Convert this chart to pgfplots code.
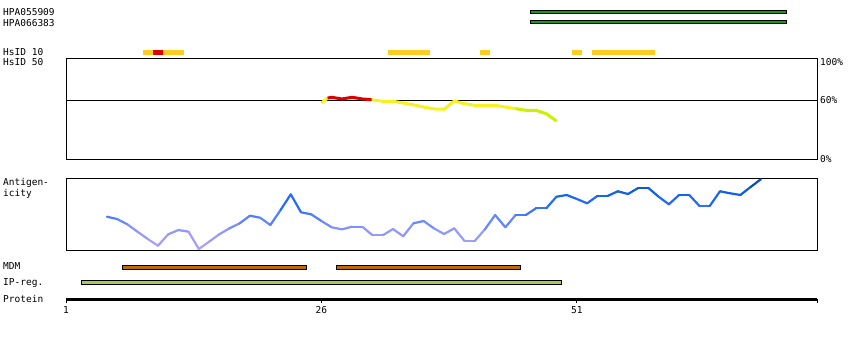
\documentclass[border=0pt]{standalone}
\usepackage{pgfplots}
\pgfplotsset{compat=1.18}
\usepackage{fontspec}
\setmainfont{DejaVu Sans Mono}
\newcommand{\lf}{\fontsize{9.5}{10}\selectfont}

\definecolor{hpagreen}{RGB}{26,150,26}
\definecolor{hsgold}{RGB}{255,204,34}
\definecolor{hsred}{RGB}{221,0,0}
\definecolor{hsyellow}{RGB}{245,242,30}
\definecolor{hsygreen}{RGB}{204,240,0}
\definecolor{mdmbrown}{RGB}{190,105,0}
\definecolor{ipgreen}{RGB}{170,200,96}

\pgfplotsset{
  colormap={antig}{rgb255(0cm)=(182,166,244); rgb255(20cm)=(140,150,255); rgb255(35cm)=(70,122,255); rgb255(55cm)=(20,100,240); rgb255(72cm)=(10,70,160)},
  track/.style={scale only axis, width=751pt, xmin=1, xmax=74.5, clip=false},
}

\begin{document}
\begin{tikzpicture}
\path[use as bounding box] (0,0) rectangle (850pt,-340pt);

% ---------- labels ----------
\begin{scope}[every node/.style={anchor=base west, inner sep=0pt, font=\lf}]
\node at (3pt,-16pt) {HPA055909};
\node at (3pt,-26pt) {HPA066383};
\node at (3pt,-55.3pt) {HsID 10};
\node at (3pt,-65.3pt) {HsID 50};
\node at (3pt,-185.3pt) {Antigen-};
\node at (3pt,-196pt) {icity};
\node at (3pt,-269.5pt) {MDM};
\node at (3pt,-285pt) {IP-reg.};
\node at (3pt,-302pt) {Protein};
\end{scope}

% ---------- track axis: x = residue, y = pixel row ----------
\begin{axis}[track, at={(66pt,0pt)}, anchor=north west, height=340pt,
  ymin=0, ymax=340, y dir=reverse, axis lines=none]
% HPA antigen bars
\addplot[draw=black, line width=1pt, fill=hpagreen] coordinates {(46.5,10.8) (71.5,10.8) (71.5,13.8) (46.5,13.8)} -- cycle;
\addplot[draw=black, line width=1pt, fill=hpagreen] coordinates {(46.5,20.8) (71.5,20.8) (71.5,23.8) (46.5,23.8)} -- cycle;
% HsID 10
\addplot[draw=none, fill=hsgold] coordinates {(8.5,50) (12.5,50) (12.5,55) (8.5,55)} -- cycle;
\addplot[draw=none, fill=hsred] coordinates {(9.5,50) (10.5,50) (10.5,55) (9.5,55)} -- cycle;
\addplot[draw=none, fill=hsgold] coordinates {(32.5,50) (36.6,50) (36.6,55) (32.5,55)} -- cycle;
\addplot[draw=none, fill=hsgold] coordinates {(41.5,50) (42.5,50) (42.5,55) (41.5,55)} -- cycle;
\addplot[draw=none, fill=hsgold] coordinates {(50.5,50) (51.5,50) (51.5,55) (50.5,55)} -- cycle;
\addplot[draw=none, fill=hsgold] coordinates {(52.5,50) (58.6,50) (58.6,55) (52.5,55)} -- cycle;
% MDM
\addplot[draw=black, line width=1pt, fill=mdmbrown] coordinates {(6.5,265.8) (24.5,265.8) (24.5,269.8) (6.5,269.8)} -- cycle;
\addplot[draw=black, line width=1pt, fill=mdmbrown] coordinates {(27.5,265.8) (45.5,265.8) (45.5,269.8) (27.5,269.8)} -- cycle;
% IP-reg
\addplot[draw=black, line width=1pt, fill=ipgreen] coordinates {(2.5,280.8) (49.5,280.8) (49.5,284.2) (2.5,284.2)} -- cycle;
\end{axis}

% ---------- protein ruler ----------
\begin{axis}[track, at={(66pt,-299.3pt)}, anchor=south west, height=10pt,
  ymin=0, ymax=1, axis x line=bottom, axis y line=none,
  x axis line style={line width=2.7pt, -},
  xtick={1,26,51,74.5}, xticklabels={1,26,51,{}},
  tick align=outside, major tick length=4pt,
  every tick/.style={black, line width=1pt},
  xticklabel style={font=\lf, inner sep=0pt, yshift=-3pt},
  /pgf/number format/assume math mode=true]
\end{axis}

% ---------- HsID 50 panel ----------
\begin{axis}[track, at={(66pt,-58.3pt)}, anchor=north west, height=100.7pt,
  ymin=0, ymax=100, xtick=\empty, ytick={0,58.3}, yticklabels={0\%,60\%},
  extra y ticks={100}, extra y tick labels={100\%},
  extra y tick style={yticklabel style={anchor=north west}},
  yticklabel pos=right, ytick pos=right, major tick length=0pt,
  axis line style={line width=1pt},
  yticklabel style={font=\lf, anchor=west, inner sep=0pt, xshift=3pt},
  /pgf/number format/assume math mode=true]
\addplot[black, line width=1pt] coordinates {(1,58.3) (74.5,58.3)};
\addplot[hsyellow, line width=3pt] coordinates {(26,55.6) (26.6,60.5)};
\addplot[hsyellow, line width=3pt, line join=round] coordinates {(30.9,58.9) (32,57.3) (33,57.3) (34,55.6) (35,53.9) (36,51.6) (37,49.7) (38,49.4) (39,57.6) (40,54.9) (41,53.3) (42,53.3) (43,53.3) (44,51.6) (45,50)};
\addplot[hsygreen, line width=3pt, line join=round] coordinates {(45,50) (46,48.4) (47,48.4) (48,45) (49,37.7)};
\addplot[hsred, line width=3pt, line join=round] coordinates {(26.6,60.5) (27,61.3) (28,59.6) (29,61.3) (30,59.6) (30.9,58.9)};
\end{axis}

% ---------- Antigenicity panel ----------
\begin{axis}[track, at={(66pt,-178.3pt)}, anchor=north west, height=71.7pt,
  ymin=0, ymax=71.7, xtick=\empty, ytick=\empty,
  axis line style={line width=1pt},
  colormap name=antig, point meta min=0, point meta max=72]
\addplot[mesh, point meta=y, line width=2.2pt, line cap=round] coordinates {
(5,33.3) (6,31) (7,25.7) (8,18.3) (9,11) (10,4.3) (11,15.7) (12,20) (13,18.3) (14,1)
(15,8.3) (16,15.7) (17,21.7) (18,26.7) (19,34.3) (20,32.3) (21,25) (22,40) (23,55.7) (24,37.7)
(25,35.7) (26,29) (27,22.7) (28,20.7) (29,23.3) (30,23.3) (31,14.7) (32,14.7) (33,21) (34,13.7)
(35,26.7) (36,29) (37,21.7) (38,16) (39,21.7) (40,9) (41,9) (42,20.7) (43,35) (44,22.7)
(45,35) (46,35) (47,41.7) (48,41.7) (49,53.3) (50,55) (51,51) (52,46.7) (53,54) (54,54)
(55,58.7) (56,56) (57,62) (58,62) (59,53.3) (60,45.7) (61,55) (62,55) (63,44) (64,44)
(65,58.7) (66,56.7) (67,55) (68,63) (69,70.7)};
\end{axis}
\end{tikzpicture}
\end{document}
